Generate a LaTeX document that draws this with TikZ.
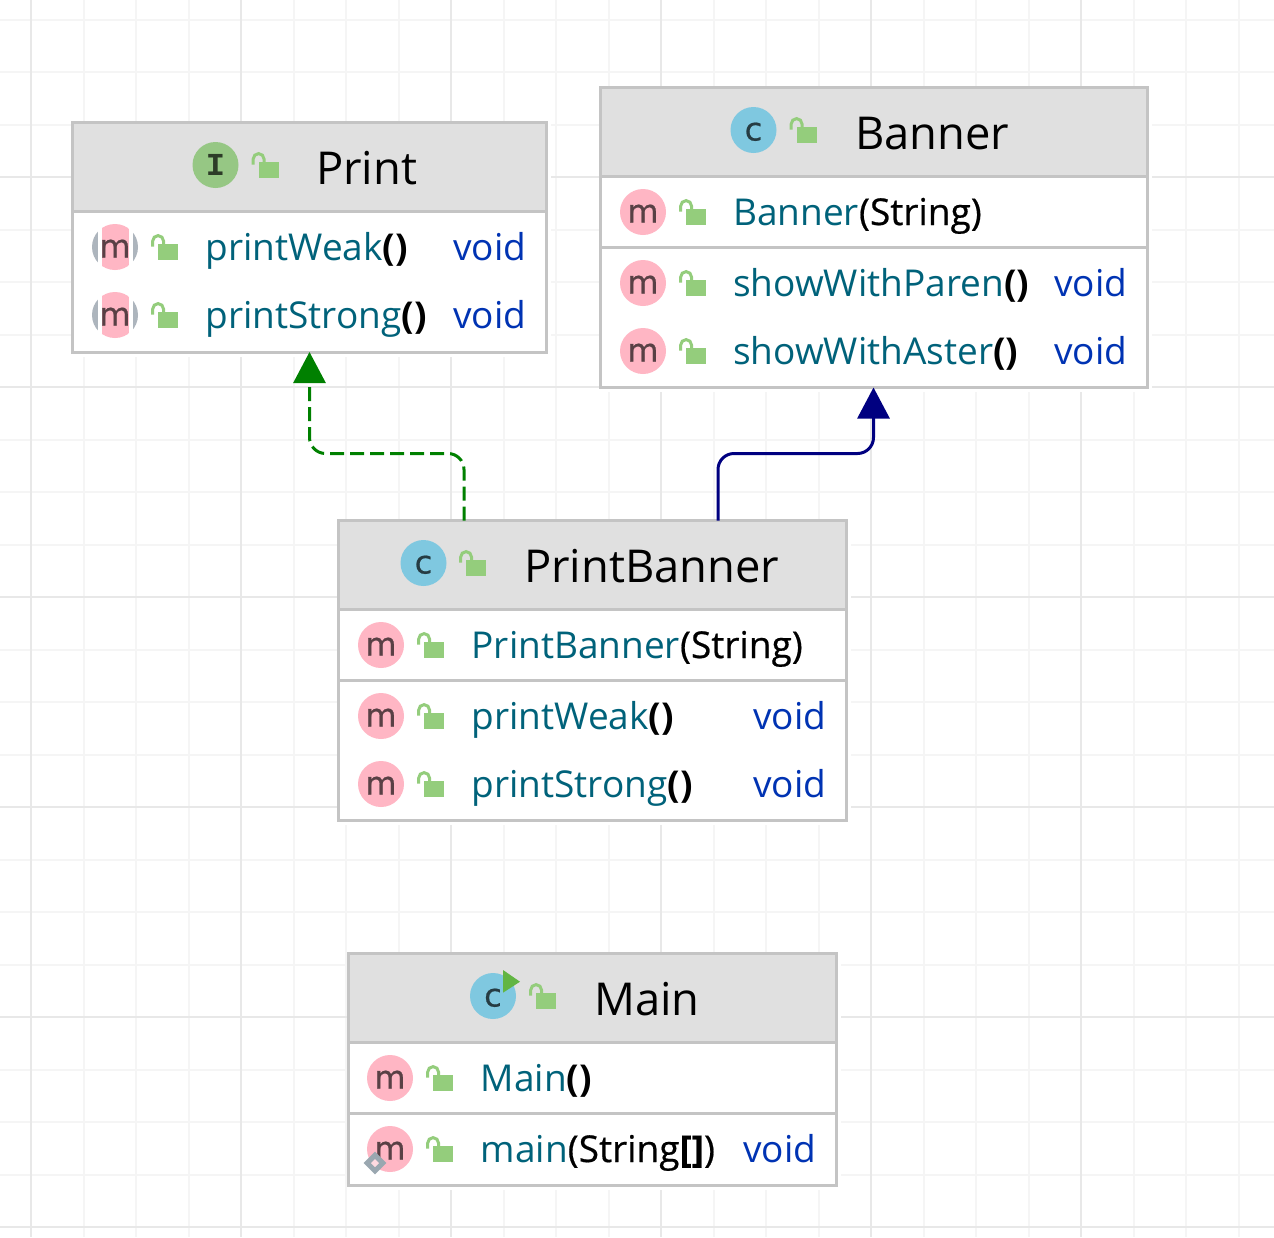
\documentclass[tikz,border=0pt]{standalone}
\usepackage{fontspec}
\setmainfont{Open Sans}
\newfontfamily\iconfont[FakeBold=0.6]{DejaVu Sans}
\newfontfamily\ifacefont{Liberation Mono}
\newfontfamily\argfont[FakeBold=0.5]{Open Sans}
\usetikzlibrary{arrows.meta}
\definecolor{gridminor}{HTML}{F5F5F5}
\definecolor{gridmajor}{HTML}{E8E8E8}
\definecolor{boxedge}{HTML}{C4C4C4}
\definecolor{headbar}{HTML}{E0E0E0}
\definecolor{methpink}{HTML}{FFB6C4}
\definecolor{classblue}{HTML}{7FC8E0}
\definecolor{ifacegreen}{HTML}{96C784}
\definecolor{lockgreen}{HTML}{94CD7C}
\definecolor{absgray}{HTML}{ADB5BD}
\definecolor{staticgray}{HTML}{9AA7B0}
\definecolor{namecol}{HTML}{00627A}
\definecolor{typecol}{HTML}{0033B3}
\definecolor{runnergreen}{HTML}{62B543}
\tikzset{
  umlbox/.style={draw=boxedge,line width=3pt,fill=white,inner sep=0pt,outer sep=0pt,
    preaction={draw=white,fill=white,transform canvas={shift={(3pt,-3pt)}}}},
  boxline/.style={draw=boxedge,line width=3pt},
  roundicon/.style={circle,inner sep=0pt,outer sep=0pt,minimum size=46pt,text height=21pt,text depth=0pt,font=\iconfont\fontsize{32}{32}\selectfont},
  methicon/.style={roundicon,fill=methpink,text=black!65!methpink},
  absicon/.style={roundicon,text=black!65!methpink},
  classicon/.style={roundicon,fill=classblue,text=black!70!classblue},
  ifaceicon/.style={roundicon,fill=ifacegreen,text=black!70!ifacegreen,text height=20pt,font=\ifacefont\bfseries\fontsize{32}{32}\selectfont},
  titletext/.style={anchor=base west,inner sep=0pt,font=\fontsize{45.3}{46}\selectfont},
  nametext/.style={anchor=base west,inner sep=0pt,text=namecol,font=\fontsize{37}{37}\selectfont},
  typetext/.style={anchor=base east,inner sep=0pt,text=typecol,font=\fontsize{37}{37}\selectfont},
  implarrow/.style={draw=green!50!black,line width=3pt,rounded corners=16pt,dash pattern=on 14pt off 6pt,-{Triangle[width=32pt,length=31pt,fill=green!50!black]}},
  extarrow/.style={draw=blue!50!black,line width=3pt,rounded corners=16pt,-{Triangle[width=32pt,length=31pt,fill=blue!50!black]}},
  lockicon/.pic={
    \fill[lockgreen] (-10,-8) rectangle (10,8);
    \draw[lockgreen,line width=3pt] (-15.3,-5.3) -- (-15.3,-11) arc[start angle=180,end angle=360,radius=5.4] -- (-4.5,-8);
  },
}
\newcommand{\bp}{\bfseries()}
\begin{document}
\begin{tikzpicture}[x=1pt,y=-1pt]
\useasboundingbox (0,0) rectangle (1274,1237);
% grid
\foreach \k in {0,...,23} {
  \draw[gridminor,line width=2pt] ({31+52.5*\k},0) -- ({31+52.5*\k},1237);
  \draw[gridminor,line width=2pt] (0,{19.5+52.5*\k}) -- (1274,{19.5+52.5*\k});
}
\foreach \k in {0,...,5} {
  \draw[gridmajor,line width=2pt] ({31+210*\k},0) -- ({31+210*\k},1237);
  \draw[gridmajor,line width=2pt] (0,{177+210*\k}) -- (1274,{177+210*\k});
}

% Print
\node[umlbox,minimum width=474pt,minimum height=230pt] (print) at (309.5,237) {};
\fill[headbar] (print.north west) rectangle (546.5,211);
\draw[boxline] (print.north west) rectangle (print.south east);
\draw[boxline] (print.west |- 0,211) -- (print.east |- 0,211);
\node[ifaceicon] (printicon) at (215.5,165) {I};
\pic at (268.5,170) {lockicon};
\node[titletext] (printtitle) at (316,184) {Print};
\foreach \y/\n in {247/weak,315/strong} {
  \fill[absgray] (115,\y) circle (23);
  \fill[white] (97.5,{\y-23}) rectangle (132.5,{\y+23});
  \begin{scope}
    \clip (115,\y) circle (23);
    \fill[methpink] (101.5,{\y-23}) rectangle (128.5,{\y+23});
  \end{scope}
  \node[absicon] (print\n icon) at (115,\y) {m};
  \pic at (168,{\y+5}) {lockicon};
}
\node[nametext] (printweak) at (205.5,260) {printWeak{\color{black}\bp}};
\node[nametext] (printstrong) at (205.5,328) {printStrong{\color{black}\bp}};
\node[typetext] (printweaktype) at (526.5,260) {void};
\node[typetext] (printstrongtype) at (526.5,328) {void};

% Banner
\node[umlbox,minimum width=547pt,minimum height=300pt] (banner) at (873.5,237.5) {};
\fill[headbar] (banner.north west) rectangle (1147,176);
\draw[boxline] (banner.north west) rectangle (banner.south east);
\draw[boxline] (banner.west |- 0,176) -- (banner.east |- 0,176);
\draw[boxline] (banner.west |- 0,247) -- (banner.east |- 0,247);
\node[classicon] (bannericon) at (753.5,130) {c};
\pic at (806.5,135) {lockicon};
\node[titletext] (bannertitle) at (855,149) {Banner};
\foreach \y in {212,283,351} {
  \node[methicon] at (643,\y) {m};
  \pic at (696,{\y+5}) {lockicon};
}
\node[nametext] (bannerctor) at (733,225) {Banner{\color{black}\argfont(String)}};
\node[nametext] (showparen) at (733,296) {showWithParen{\color{black}\bp}};
\node[nametext] (showaster) at (733,364) {showWithAster{\color{black}\bp}};
\node[typetext] (showparentype) at (1127.5,296) {void};
\node[typetext] (showastertype) at (1127.5,364) {void};

% PrintBanner
\node[umlbox,minimum width=508pt,minimum height=300pt] (printbanner) at (592.5,670.5) {};
\fill[headbar] (printbanner.north west) rectangle (846.5,609);
\draw[boxline] (printbanner.north west) rectangle (printbanner.south east);
\draw[boxline] (printbanner.west |- 0,609) -- (printbanner.east |- 0,609);
\draw[boxline] (printbanner.west |- 0,680) -- (printbanner.east |- 0,680);
\node[classicon] (pbannericon) at (423.5,563) {c};
\pic at (476,568) {lockicon};
\node[titletext] (pbannertitle) at (524,582) {PrintBanner};
\foreach \y in {645,716,784} {
  \node[methicon] at (381,\y) {m};
  \pic at (434,{\y+5}) {lockicon};
}
\node[nametext] (pbannerctor) at (471.5,658) {PrintBanner{\color{black}\argfont(String)}};
\node[nametext] (pbweak) at (471.5,729) {printWeak{\color{black}\bp}};
\node[nametext] (pbstrong) at (471.5,797) {printStrong{\color{black}\bp}};
\node[typetext] (pbweaktype) at (826.5,729) {void};
\node[typetext] (pbstrongtype) at (826.5,797) {void};

% Main
\node[umlbox,minimum width=488pt,minimum height=232pt] (main) at (592,1069.5) {};
\fill[headbar] (main.north west) rectangle (836,1042);
\draw[boxline] (main.north west) rectangle (main.south east);
\draw[boxline] (main.west |- 0,1042) -- (main.east |- 0,1042);
\draw[boxline] (main.west |- 0,1113) -- (main.east |- 0,1113);
\node[classicon] (mainicon) at (493,996) {c};
\fill[runnergreen] (503,970) -- (520,981.7) -- (503,992.7) -- cycle;
\pic at (546,1001) {lockicon};
\node[titletext] (maintitle) at (594,1015) {Main};
\foreach \y in {1078,1149} {
  \node[methicon] at (390,\y) {m};
  \pic at (443,{\y+5}) {lockicon};
}
\node[draw=staticgray,line width=5pt,fill=methpink!50,rotate=45,minimum size=11pt,inner sep=0pt] (staticmark) at (375,1163) {};
\node[nametext] (mainctor) at (480.5,1091) {Main{\color{black}\bp}};
\node[nametext] (mainmain) at (480.5,1162) {main{\color{black}\argfont(String{\bfseries[]})}};
\node[typetext] (mainmaintype) at (816.5,1162) {void};

% connectors
\draw[implarrow] ([xshift=-128.5pt]printbanner.north) -- ++(0,-67) -| (print.south);
\draw[extarrow] ([xshift=125.5pt]printbanner.north) -- ++(0,-67) -| (banner.south);
\end{tikzpicture}
\end{document}
